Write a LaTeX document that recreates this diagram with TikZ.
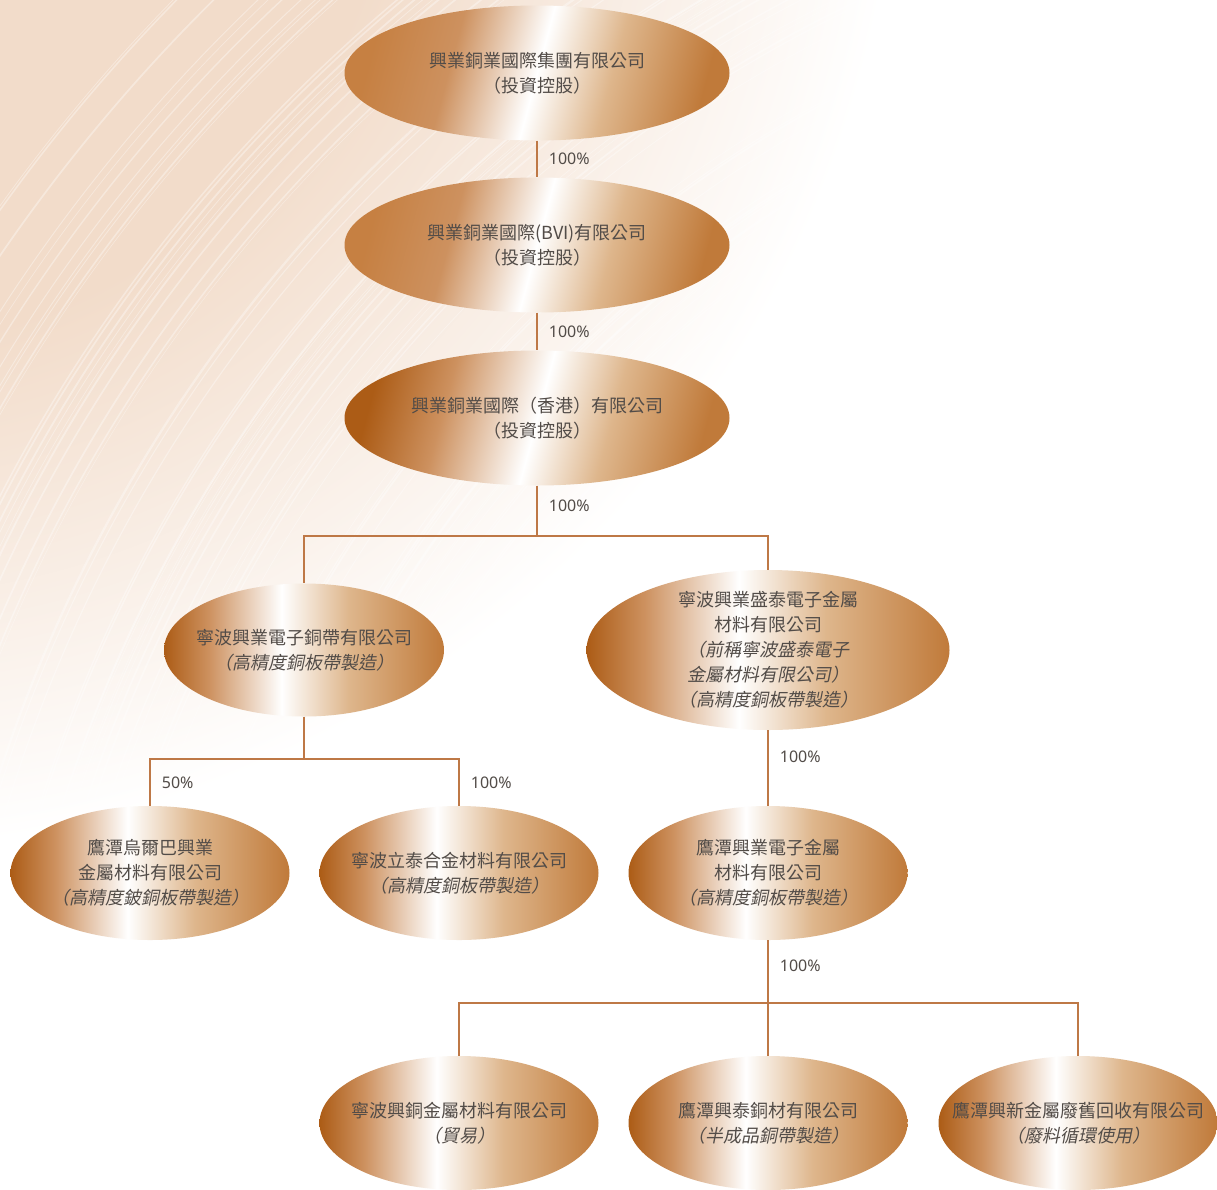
\documentclass[tikz,border=0pt]{standalone}
\usepackage{fontspec}
\setmainfont{Noto Sans}
\newfontfamily\cjk{Noto Sans CJK TC}
\newfontfamily\cjkit{Noto Sans CJK TC}[FakeSlant=0.2]
\usetikzlibrary{shapes.geometric,positioning}
\definecolor{cuDark}{RGB}{172,92,22}
\definecolor{cuMid}{RGB}{205,145,95}
\definecolor{cuLight}{RGB}{222,182,140}
\definecolor{cuEdge}{RGB}{192,122,58}
\definecolor{cuSoft}{RGB}{198,128,66}
\definecolor{cuLine}{RGB}{190,120,70}
\definecolor{inkgray}{RGB}{82,76,72}
\definecolor{peach}{RGB}{242,220,202}
\pgfdeclarehorizontalshading{copper}{100bp}{color(0bp)=(cuDark); color(25bp)=(cuDark);
  color(33bp)=(cuMid); color(46bp)=(white); color(58bp)=(cuLight);
  color(75bp)=(cuEdge); color(100bp)=(cuEdge)}
\pgfdeclarehorizontalshading{coppertilt}{100bp}{color(0bp)=(cuSoft); color(25bp)=(cuSoft);
  color(37bp)=(cuMid); color(50bp)=(white); color(61bp)=(cuLight);
  color(75bp)=(cuEdge); color(100bp)=(cuEdge)}
\pgfdeclarehorizontalshading{copperhk}{100bp}{color(0bp)=(cuDark); color(25bp)=(cuDark);
  color(36bp)=(cuMid); color(50bp)=(white); color(61bp)=(cuLight);
  color(75bp)=(cuEdge); color(100bp)=(cuEdge)}
\pgfdeclareradialshading{bgfade}{\pgfpoint{0bp}{0bp}}{color(0bp)=(peach);
  color(13bp)=(peach); color(25bp)=(white); color(50bp)=(white)}

\begin{document}
\begin{tikzpicture}[x=1pt, y=-1pt,
    company/.style={ellipse, shading=copper, inner xsep=-60pt, inner ysep=-30pt,
      align=center, text=inkgray, font=\cjk\fontsize{18}{25}\selectfont},
    holding/.style={company, shading=coppertilt, shading angle=-15,
      minimum width=385pt, minimum height=135pt},
    plant/.style={company, minimum width=279pt, minimum height=134pt},
    link/.style={draw=cuLine, line width=1.2pt},
    pct/.style={anchor=west, xshift=8pt, text=inkgray, font=\fontsize{16}{18}\selectfont}]
  \useasboundingbox (0,0) rectangle (1217,1189);

  % background
  \begin{scope}
    \clip (0,0) rectangle (1217,1189);
    \fill[white] (0,0) rectangle (1217,1189);
    \shade[shading=bgfade] (-150,-200) circle (1050);
    \pgfmathsetseed{7}
    \foreach \i in {1,...,110}{
      \pgfmathsetmacro{\r}{800+rnd*1000}
      \pgfmathsetmacro{\w}{0.4+rnd*1.4}
      \draw[white, opacity=0.35, line width=\w pt] (1450,1250) ++(180:\r)
        arc[start angle=180, end angle=245, radius=\r];
    }
  \end{scope}

  \node[holding] (grp) at (537,73) {興業銅業國際集團有限公司\\（投資控股）};
  \node[holding] (bvi) at (537,245) {興業銅業國際(BVI)有限公司\\（投資控股）};
  \node[holding, shading=copperhk] (hk) at (537,418) {興業銅業國際（香港）有限公司\\（投資控股）};

  \node[plant, minimum width=280pt, minimum height=133pt] (nbe) at (304,650)
    {寧波興業電子銅帶有限公司\\{\cjkit （高精度銅板帶製造）}};
  \node[plant, minimum width=363pt, minimum height=160pt] (nbs) at (768,650)
    {寧波興業盛泰電子金屬\\材料有限公司\\{\cjkit （前稱寧波盛泰電子}\\
     {\cjkit 金屬材料有限公司）}\\{\cjkit （高精度銅板帶製造）}};

  \node[plant] (ytw) at (150,873)
    {鷹潭烏爾巴興業\\金屬材料有限公司\\{\cjkit （高精度鈹銅板帶製造）}};
  \node[plant] (nblt) at (459,873)
    {寧波立泰合金材料有限公司\\{\cjkit （高精度銅板帶製造）}};
  \node[plant] (ytx) at (768,873)
    {鷹潭興業電子金屬\\材料有限公司\\{\cjkit （高精度銅板帶製造）}};

  \node[plant] (nbt) at (459,1123) {寧波興銅金屬材料有限公司\\{\cjkit （貿易）}};
  \node[plant] (ytt) at (768,1123) {鷹潭興泰銅材有限公司\\{\cjkit （半成品銅帶製造）}};
  \node[plant] (ytr) at (1078,1123) {鷹潭興新金屬廢舊回收有限公司\\{\cjkit （廢料循環使用）}};

  \coordinate (br1) at (537,536);
  \coordinate (br2) at (304,759);
  \coordinate (br3) at (768,1003);

  \draw[link] (grp) -- node[pct] (p1) {100\%} (bvi);
  \draw[link] (bvi) -- node[pct] (p2) {100\%} (hk);
  \draw[link] (hk) -- node[pct, pos=0.4] (p3) {100\%} (br1);
  \draw[link] (br1) -| (nbe);
  \draw[link] (br1) -| (nbs);
  \draw[link] (nbe) -- (br2);
  \draw[link] (br2) -| node[pct, pos=0.75] (p4) {50\%} (ytw);
  \draw[link] (br2) -| node[pct, pos=0.75] (p5) {100\%} (nblt);
  \draw[link] (nbs) -- node[pct, pos=0.35] (p6) {100\%} (ytx);
  \draw[link] (ytx) -- node[pct, pos=0.4] (p7) {100\%} (br3);
  \draw[link] (br3) -| (nbt);
  \draw[link] (br3) -- (ytt);
  \draw[link] (br3) -| (ytr);
\end{tikzpicture}
\end{document}
